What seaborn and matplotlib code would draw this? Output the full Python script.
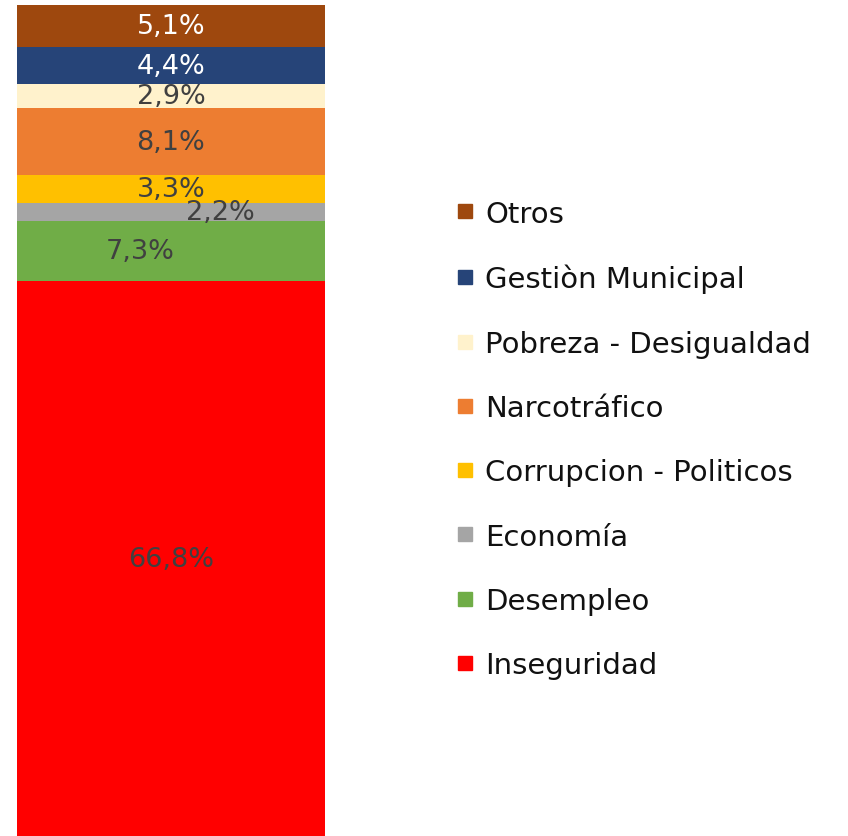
import numpy as np
import pandas as pd
import matplotlib
matplotlib.use("Agg")
import matplotlib.pyplot as plt
from matplotlib.lines import Line2D
import seaborn as sns

# datos (de abajo hacia arriba en la barra)
categorias = ["Inseguridad", "Desempleo", "Economía", "Corrupcion - Politicos",
              "Narcotráfico", "Pobreza - Desigualdad", "Gestiòn Municipal", "Otros"]
valores = [66.8, 7.3, 2.2, 3.3, 8.1, 2.9, 4.4, 5.1]
etiquetas = ["66,8%", "7,3%", "2,2%", "3,3%", "8,1%", "2,9%", "4,4%", "5,1%"]

colores = ["#FF0000", "#70AD47", "#A5A5A5", "#FFC000",
           "#ED7D31", "#FFF2CC", "#264478", "#9E480E"]
color_texto = ["#404040", "#404040", "#404040", "#404040",
               "#404040", "#404040", "#FFFFFF", "#FFFFFF"]
# desplazamiento horizontal de algunas etiquetas (como en el original)
desplaza_x = {"2,2%": 0.16, "7,3%": -0.10}

sns.set_style("white")
plt.rcParams["font.family"] = ["DejaVu Sans"]

fig = plt.figure(figsize=(8.48, 8.37), dpi=100)
ax = fig.add_axes([17 / 848, 0, 308 / 848, 831 / 837])

acum = np.cumsum(valores)
# barras acumuladas, de la mas alta a la mas baja
for i in range(len(valores) - 1, -1, -1):
    df = pd.DataFrame({"x": ["total"], "y": [acum[i]]})
    sns.barplot(data=df, x="x", y="y", color=colores[i], width=1.0,
                saturation=1, ax=ax, linewidth=0)

base = np.concatenate([[0], acum[:-1]])
for i, v in enumerate(valores):
    ax.text(desplaza_x.get(etiquetas[i], 0), base[i] + v / 2, etiquetas[i],
            ha="center", va="center", fontsize=19.5, color=color_texto[i])

ax.set_xlim(-0.5, 0.5)
ax.set_ylim(0, acum[-1])
ax.axis("off")

# leyenda (de arriba hacia abajo)
handles = [Line2D([0], [0], marker="s", linestyle="none", markersize=10.5,
                  markerfacecolor=colores[i], markeredgecolor=colores[i])
           for i in range(len(valores) - 1, -1, -1)]
labels = [categorias[i] for i in range(len(valores) - 1, -1, -1)]
fig.legend(handles, labels, loc="upper left", bbox_to_anchor=(440 / 848, 1 - 186 / 837),
           frameon=False, fontsize=21, labelspacing=1.245, handlelength=0.7,
           handletextpad=0.35, borderpad=0, labelcolor="#111111")

fig.savefig("out.png", dpi=100, facecolor="white")
